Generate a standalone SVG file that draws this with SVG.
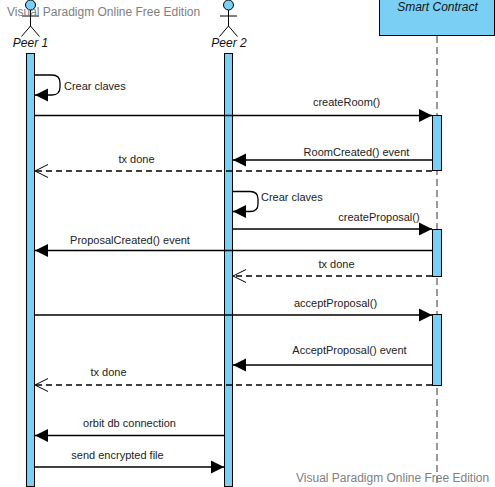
<svg xmlns="http://www.w3.org/2000/svg" width="495" height="487" viewBox="0 0 495 487">
<style>
text{font-family:"Liberation Sans",Arial,sans-serif;font-size:11px;fill:#222}
.c{text-anchor:middle}
.i{font-style:italic;font-size:12px;fill:#111}
.act{fill:#7ACFF5;stroke:#000;stroke-width:1}
.ln{fill:none;stroke:#000;stroke-width:1.3}
.d{stroke-dasharray:6 4;stroke-width:1.3}
.wm{font-size:12px;fill:#808080}
.st{fill:none;stroke:#000;stroke-width:1}
</style>
<defs>
<marker id="f" markerUnits="userSpaceOnUse" markerWidth="14" markerHeight="14" refX="13" refY="7" orient="auto"><path d="M0,0.5L13,7L0,13.5Z" fill="#000"/></marker>
<marker id="o" markerUnits="userSpaceOnUse" markerWidth="14" markerHeight="14" refX="13" refY="7" orient="auto"><path d="M0,0.5L13,7L0,13.5" fill="none" stroke="#000" stroke-width="1"/></marker>
</defs>
<g id="peer1">
<circle cx="30.500" cy="5" r="5" fill="#7ACFF5" stroke="#000"/>
<path class="st" d="M30.500,10V26M22,16H39M30.500,26L21.500,36.500M30.500,26L39.500,36.500"/>
<text class="i c" x="30.500" y="47">Peer 1</text>
<rect class="act" x="26.500" y="53.500" width="8" height="433"/>
</g>
<g id="peer2">
<circle cx="228.500" cy="5" r="5" fill="#7ACFF5" stroke="#000"/>
<path class="st" d="M228.500,10V26M220,16H237M228.500,26L219.500,36.500M228.500,26L237.500,36.500"/>
<text class="i c" x="229" y="47">Peer 2</text>
<rect class="act" x="224.500" y="53.500" width="8" height="433"/>
</g>
<g id="smart-contract">
<rect x="379.500" y="-1" width="115" height="36.500" fill="#7ACFF5" stroke="#000"/>
<text class="i c" x="437.500" y="11">Smart Contract</text>
<line x1="437" y1="36" x2="437" y2="484" stroke="#808080" stroke-width="1.600" stroke-dasharray="7 4"/>
<rect class="act" x="432.500" y="115.500" width="9" height="55"/>
<rect class="act" x="432.500" y="229.500" width="9" height="47"/>
<rect class="act" x="432.500" y="314.500" width="9" height="71"/>
</g>
<g id="connectors">
<path class="ln" d="M35,75H52Q60,75 60,83V87Q60,95 52,95H35" marker-end="url(#f)"/>
<path class="ln" d="M35,115.500H432" marker-end="url(#f)"/>
<path class="ln" d="M432,160H233" marker-end="url(#f)"/>
<path class="ln d" d="M432,171H35" marker-end="url(#o)"/>
<path class="ln" d="M233,191.500H250Q258,191.500 258,199V204Q258,211.500 250,211.500H233" marker-end="url(#f)"/>
<path class="ln" d="M233,229H432" marker-end="url(#f)"/>
<path class="ln" d="M432,250.500H35" marker-end="url(#f)"/>
<path class="ln d" d="M432,276H233" marker-end="url(#o)"/>
<path class="ln" d="M35,315H432" marker-end="url(#f)"/>
<path class="ln" d="M432,365H233" marker-end="url(#f)"/>
<path class="ln d" d="M432,385H35" marker-end="url(#o)"/>
<path class="ln" d="M224,435.500H35" marker-end="url(#f)"/>
<path class="ln" d="M35,467H224" marker-end="url(#f)"/>
</g>
<g id="labels">
<text x="64" y="90">Crear claves</text>
<text class="c" x="346.500" y="106">createRoom()</text>
<text class="c" x="356.500" y="156">RoomCreated() event</text>
<text class="c" x="136.500" y="163">tx done</text>
<text x="261" y="201">Crear claves</text>
<text class="c" x="379" y="221">createProposal()</text>
<text class="c" x="130" y="244">ProposalCreated() event</text>
<text class="c" x="336.500" y="268">tx done</text>
<text class="c" x="335.500" y="307">acceptProposal()</text>
<text class="c" x="349.500" y="354">AcceptProposal() event</text>
<text class="c" x="108.500" y="376">tx done</text>
<text class="c" x="129.500" y="427">orbit db connection</text>
<text class="c" x="117.500" y="459">send encrypted file</text>
</g>
<text class="wm" x="7" y="16">Visual Paradigm Online Free Edition</text>
<text class="wm" x="296" y="482">Visual Paradigm Online Free Edition</text>
</svg>
